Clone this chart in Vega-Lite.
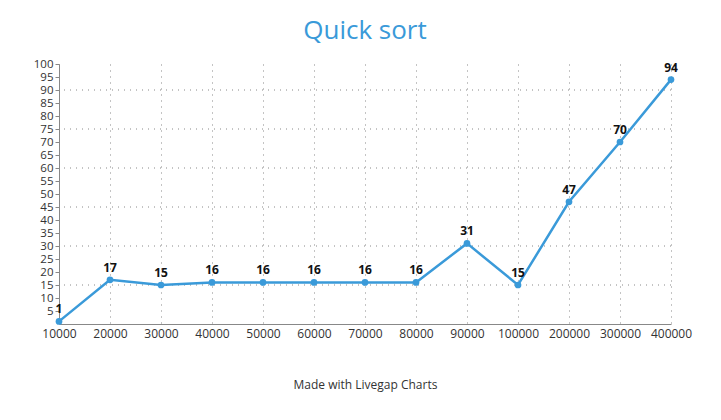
{
  "$schema": "https://vega.github.io/schema/vega-lite/v6.json",
  "width": 612,
  "height": 260,
  "padding": {"left": 33, "right": 40, "top": 18, "bottom": 18},
  "background": "white",
  "title": {"text": "Quick sort", "fontSize": 26, "font": "Open Sans", "fontWeight": "normal", "color": "#3a9ad9", "offset": 14},
  "data": {"values": [
    {"n": "10000", "t": 1}, {"n": "20000", "t": 17}, {"n": "30000", "t": 15},
    {"n": "40000", "t": 16}, {"n": "50000", "t": 16}, {"n": "60000", "t": 16},
    {"n": "70000", "t": 16}, {"n": "80000", "t": 16}, {"n": "90000", "t": 31},
    {"n": "100000", "t": 15}, {"n": "200000", "t": 47}, {"n": "300000", "t": 70},
    {"n": "400000", "t": 94}
  ]},
  "encoding": {
    "x": {"field": "n", "type": "ordinal", "sort": null,
      "scale": {"type": "point", "padding": 0},
      "axis": {"title": "Made with Livegap Charts", "titleFontWeight": "normal", "titleFont": "Open Sans", "titleFontSize": 12, "titlePadding": 40, "titleColor": "#333",
        "labelAngle": 0, "labelFont": "Open Sans", "labelFontSize": 12, "labelColor": "#333", "labelPadding": 4,
        "grid": true, "gridDash": [1, 5], "gridColor": "#888", "domainColor": "#888", "tickColor": "#888", "ticks": false}},
    "y": {"field": "t", "type": "quantitative",
      "scale": {"domain": [0, 100], "nice": false},
      "axis": {"title": null, "values": [5,10,15,20,25,30,35,40,45,50,55,60,65,70,75,80,85,90,95,100],
        "labelFont": "Open Sans", "labelFontSize": 11.5, "labelColor": "#333", "labelOverlap": false, "grid": false, "domainColor": "#888", "tickSize": 4, "tickColor": "#888"}}
  },
  "layer": [
    {"mark": {"type": "rule", "strokeDash": [1, 5], "color": "#888"},
      "data": {"values": [{"g": 15}, {"g": 30}, {"g": 45}, {"g": 60}, {"g": 75}, {"g": 90}]},
      "encoding": {"x": null, "y": {"field": "g", "type": "quantitative"}}},
    {"mark": {"type": "line", "color": "#3a9ad9", "strokeWidth": 2.5}},
    {"mark": {"type": "point", "filled": true, "color": "#3a9ad9", "size": 45, "opacity": 1}},
    {"mark": {"type": "text", "dy": -12, "font": "Open Sans", "fontWeight": "bold", "fontSize": 12, "color": "#111"},
      "encoding": {"text": {"field": "t"}}}
  ],
  "config": {"view": {"stroke": null}}
}
